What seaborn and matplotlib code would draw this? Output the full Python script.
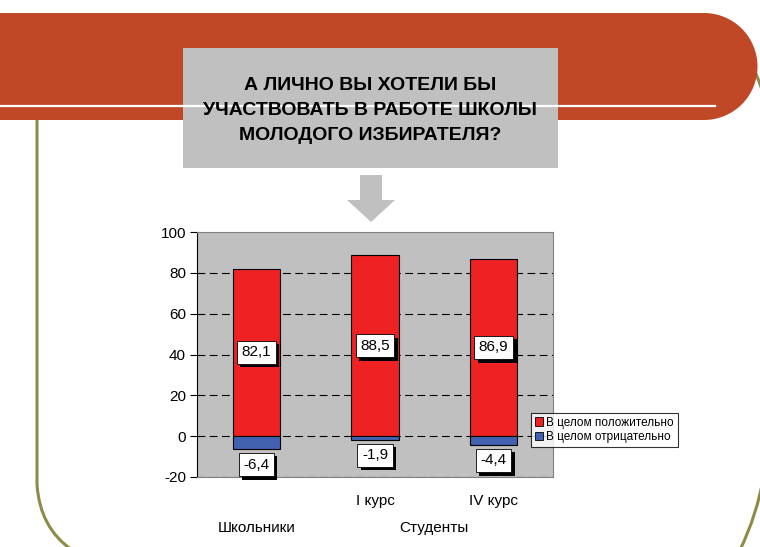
import pandas as pd
import seaborn as sns
import matplotlib.pyplot as plt
import matplotlib.patheffects as pe
from matplotlib.patches import Rectangle, Wedge, Polygon, Patch, PathPatch
from matplotlib.path import Path

# chart data
groups = ['Школьники', 'Студенты']
sub_labels = ['', 'I курс', 'IV курс']
cat_keys = ['Школьники', 'Студенты I курс', 'Студенты IV курс']
positive = [82.1, 88.5, 86.9]
negative = [-6.4, -1.9, -4.4]
series = ['В целом положительно', 'В целом отрицательно']
title_lines = ['А ЛИЧНО ВЫ ХОТЕЛИ БЫ', 'УЧАСТВОВАТЬ В РАБОТЕ ШКОЛЫ', 'МОЛОДОГО ИЗБИРАТЕЛЯ?']
yticks = [-20, 0, 20, 40, 60, 80, 100]

red = '#EE2222'
blue = '#4262B0'
band = '#C04826'
olive = '#8C8C48'
grey = '#C0C0C0'

plt.rcParams['font.family'] = ['Liberation Sans', 'DejaVu Sans']

fig = plt.figure(figsize=(7.6, 5.47), dpi=100)

# slide decoration, pixel coordinates
bg = fig.add_axes([0, 0, 1, 1], zorder=0)
bg.set_xlim(0, 760)
bg.set_ylim(547, 0)
bg.axis('off')

# olive frame lines
left = Path([(37, 115), (37, 485), (40, 528), (72, 550)],
            [Path.MOVETO, Path.LINETO, Path.CURVE3, Path.CURVE3])
bg.add_patch(PathPatch(left, fill=False, edgecolor=olive, lw=2.2))
right_top = Path([(750, 60), (756, 72), (762, 90)],
                 [Path.MOVETO, Path.CURVE3, Path.CURVE3])
bg.add_patch(PathPatch(right_top, fill=False, edgecolor=olive, lw=2.2))
right_bot = Path([(764, 475), (757, 515), (740, 550)],
                 [Path.MOVETO, Path.CURVE3, Path.CURVE3])
bg.add_patch(PathPatch(right_bot, fill=False, edgecolor=olive, lw=2.2))

# red band with rounded end
bg.add_patch(Rectangle((0, 13), 704, 107, facecolor=band, edgecolor='none'))
bg.add_patch(Wedge((704, 66.5), 53.5, -90, 90, facecolor=band, edgecolor='none'))
bg.plot([0, 715], [105.5, 105.5], color='white', lw=1.6)

# title box
bg.add_patch(Rectangle((183, 48), 375, 120, facecolor=grey, edgecolor='none'))
for i, line in enumerate(title_lines):
    bg.text(370, 86 + i * 24.5, line, ha='center', va='center', fontsize=14,
            fontweight='bold', color='black',
            family=['Liberation Sans Narrow', 'Liberation Sans'])

# down arrow
bg.add_patch(Polygon([(360, 175), (382, 175), (382, 200), (395, 200), (371, 222),
                      (347, 200), (360, 200)], closed=True,
                     facecolor=grey, edgecolor='none'))

# chart
ax = fig.add_axes([197 / 760, 70 / 547, 356 / 760, 245 / 547], zorder=1)
ax.set_facecolor(grey)

df = pd.DataFrame({
    'cat': cat_keys * 2,
    'val': positive + negative,
    'series': [series[0]] * 3 + [series[1]] * 3,
})
sns.barplot(data=df, x='cat', y='val', hue='series', order=cat_keys,
            palette={series[0]: red, series[1]: blue}, dodge=False, width=0.4,
            saturation=1, edgecolor='black', linewidth=0.8, ax=ax, legend=False,
            zorder=3)

ax.set_ylim(-20, 100)
ax.set_xlim(-0.5, 2.5)
ax.set_yticks(yticks)
ax.set_yticklabels([str(t) for t in yticks], fontsize=11)
for t in yticks[:-1]:
    ax.axhline(t, color='black', lw=0.8, ls=(0, (7, 4)), zorder=2)

ax.set_xticks(range(3))
ax.set_xticklabels(sub_labels, fontsize=11)
ax.tick_params(axis='x', length=0, pad=12)
ax.tick_params(axis='y', direction='out', length=5, width=0.8, color='black', pad=3)
ax.set_xlabel('')
ax.set_ylabel('')

for s in ['top', 'right', 'bottom']:
    ax.spines[s].set_color('#808080')
    ax.spines[s].set_linewidth(0.8)
ax.spines['left'].set_color('black')
ax.spines['left'].set_linewidth(0.8)

# group labels under the sub labels
ax.text(0, -51 / 245, groups[0], transform=ax.get_xaxis_transform(),
        ha='center', va='center', fontsize=11)
ax.text(1.5, -51 / 245, groups[1], transform=ax.get_xaxis_transform(),
        ha='center', va='center', fontsize=11)

# data labels with shadowed white boxes
def fmt(v):
    return f'{v:.1f}'.replace('.', ',')

shadow = [pe.SimplePatchShadow(offset=(2.5, -2.5), shadow_rgbFace='black', alpha=1),
          pe.Normal()]
for i, (p, n) in enumerate(zip(positive, negative)):
    t1 = ax.annotate(fmt(p), (i, p / 2), ha='center', va='center', fontsize=11,
                     bbox=dict(boxstyle='square,pad=0.3', fc='white', ec='black', lw=0.6),
                     zorder=5)
    t2 = ax.annotate(fmt(n), (i, n), xytext=(0, -6), textcoords='offset points',
                     ha='center', va='top', fontsize=11,
                     bbox=dict(boxstyle='square,pad=0.3', fc='white', ec='black', lw=0.6),
                     zorder=5)
    for t in (t1, t2):
        t.get_bbox_patch().set_path_effects(shadow)

handles = [Patch(facecolor=red, edgecolor='black', lw=0.6),
           Patch(facecolor=blue, edgecolor='black', lw=0.6)]
leg = ax.legend(handles, series, loc='upper left',
                bbox_to_anchor=((531 - 197) / 356, (477 - 413) / 245),
                borderaxespad=0, fontsize=8.5, fancybox=False, frameon=True,
                handlelength=0.7, handleheight=0.7, handletextpad=0.3,
                labelspacing=0.25, borderpad=0.3)
leg.get_frame().set_edgecolor('black')
leg.get_frame().set_linewidth(0.8)
leg.set_zorder(6)

fig.savefig('out.png', dpi=100)
